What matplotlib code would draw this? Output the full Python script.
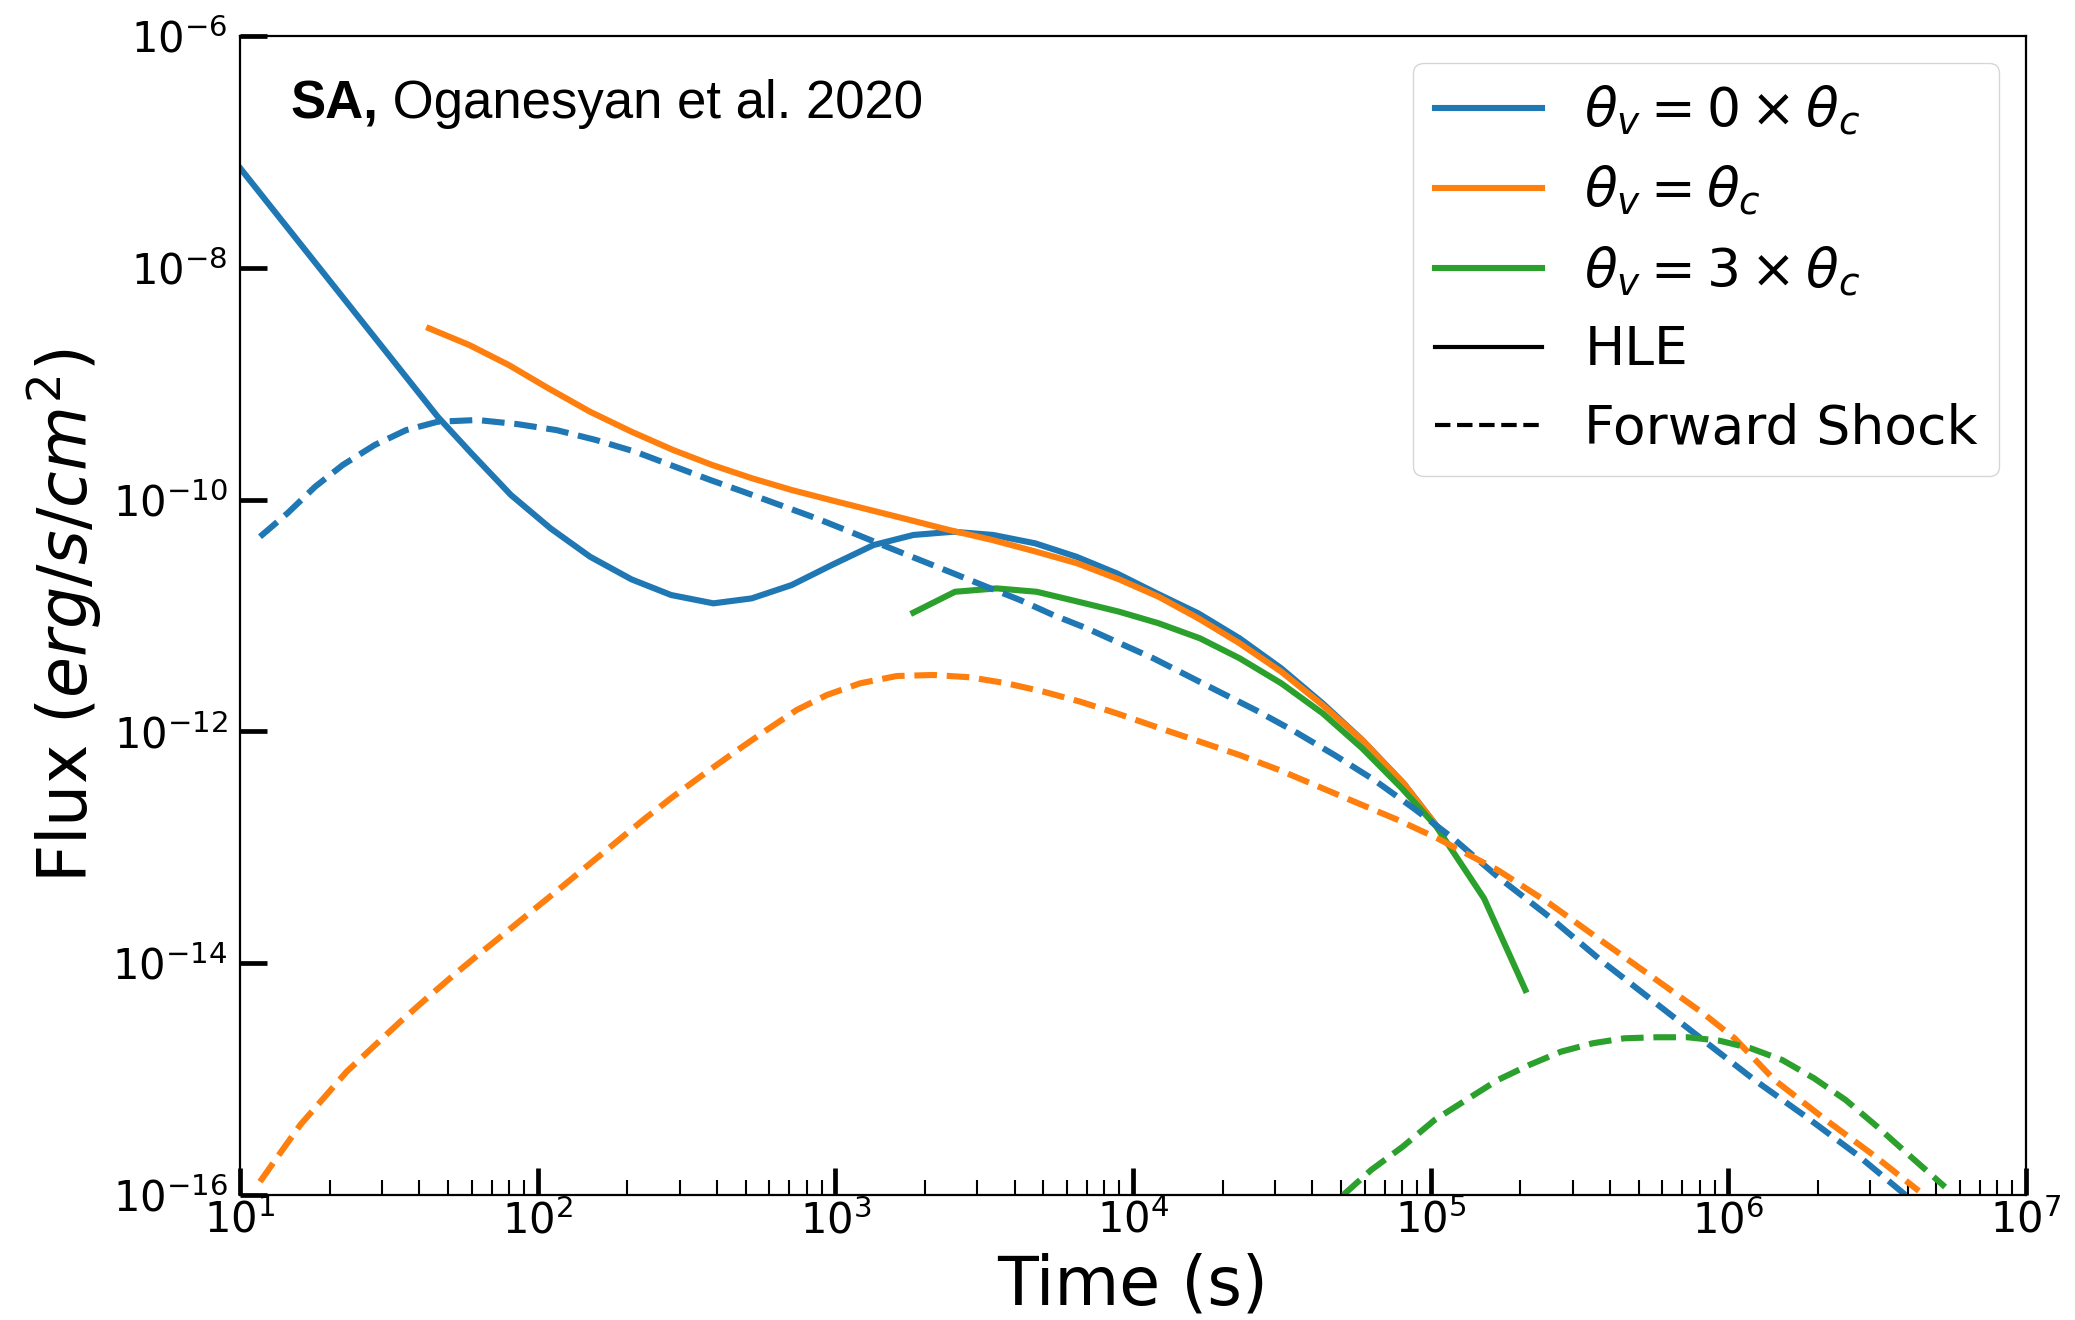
import numpy as np
import matplotlib
matplotlib.use("Agg")
import matplotlib.pyplot as plt
from matplotlib.lines import Line2D
from matplotlib.ticker import LogLocator, NullLocator

# light curves, stored as log10(time [s]) and log10(flux)
# HLE, theta_v = 0
hle0_logt = [1.000, 1.664, 1.777, 1.910, 2.043, 2.176, 2.315, 2.448, 2.590, 2.719,
             2.853, 2.988, 3.128, 3.262, 3.396, 3.530, 3.671, 3.810, 3.945, 4.080,
             4.219, 4.358, 4.498, 4.637, 4.770, 4.909, 5.022]
hle0_logf = [-7.139, -9.285, -9.600, -9.960, -10.248, -10.493, -10.688, -10.823, -10.895, -10.852,
             -10.737, -10.564, -10.392, -10.305, -10.277, -10.305, -10.377, -10.493, -10.636, -10.809,
             -10.981, -11.197, -11.456, -11.758, -12.074, -12.448, -12.822]

# HLE, theta_v = theta_c
hle1_logt = [1.635, 1.770, 1.903, 2.036, 2.176, 2.315, 2.455, 2.587, 2.720, 2.853,
             2.992, 3.229, 3.382, 3.528, 3.674, 3.813, 3.953, 4.086, 4.219, 4.358,
             4.498, 4.637, 4.770, 4.909, 5.022]
hle1_logf = [-8.522, -8.666, -8.839, -9.040, -9.242, -9.414, -9.572, -9.702, -9.816, -9.917,
             -10.009, -10.162, -10.262, -10.349, -10.449, -10.550, -10.688, -10.838, -11.024, -11.240,
             -11.485, -11.773, -12.074, -12.448, -12.822]

# HLE, theta_v = 3 theta_c
hle3_logt = [3.262, 3.402, 3.542, 3.676, 3.816, 3.953, 4.086, 4.225, 4.358, 4.498,
             4.637, 4.770, 4.903, 5.019, 5.179, 5.318]
hle3_logf = [-10.975, -10.795, -10.766, -10.795, -10.881, -10.967, -11.067, -11.197, -11.369, -11.585,
             -11.844, -12.146, -12.491, -12.822, -13.440, -14.231]

# forward shock, theta_v = 0
fs0_logt = [1.067, 1.159, 1.252, 1.345, 1.452, 1.558, 1.664, 1.797, 1.930, 2.063,
            2.196, 2.328, 2.461, 2.579, 2.691, 2.814, 2.937, 3.049, 3.172, 3.284,
            3.396, 3.508, 3.620, 3.732, 3.844, 3.956, 4.068, 4.157, 4.278, 4.411,
            4.544, 4.677, 4.810, 4.943, 5.075, 5.225, 5.398, 5.570, 5.743, 5.915,
            6.088, 6.261, 6.434, 6.595]
fs0_logf = [-10.320, -10.118, -9.889, -9.701, -9.529, -9.400, -9.328, -9.313, -9.348, -9.400,
            -9.486, -9.587, -9.716, -9.830, -9.932, -10.047, -10.162, -10.277, -10.406, -10.521,
            -10.636, -10.752, -10.866, -10.996, -11.110, -11.240, -11.369, -11.485, -11.643, -11.815,
            -12.002, -12.204, -12.419, -12.664, -12.922, -13.254, -13.599, -13.972, -14.318, -14.663,
            -15.008, -15.325, -15.656, -16.000]

# forward shock, theta_v = theta_c
fs1_logt = [1.067, 1.134, 1.202, 1.280, 1.358, 1.448, 1.538, 1.627, 1.711, 1.806,
            1.896, 1.985, 2.075, 2.170, 2.265, 2.361, 2.456, 2.568, 2.669, 2.769,
            2.870, 2.971, 3.083, 3.206, 3.329, 3.452, 3.575, 3.699, 3.822, 3.945,
            4.091, 4.225, 4.358, 4.491, 4.624, 4.757, 4.890, 5.022, 5.225, 5.398,
            5.570, 5.743, 5.915, 6.022, 6.155, 6.328, 6.487, 6.640]
fs1_logf = [-15.885, -15.641, -15.396, -15.166, -14.936, -14.720, -14.505, -14.303, -14.117, -13.915,
            -13.728, -13.541, -13.354, -13.153, -12.952, -12.750, -12.560, -12.350, -12.165, -11.988,
            -11.815, -11.686, -11.585, -11.522, -11.513, -11.533, -11.585, -11.657, -11.743, -11.844,
            -11.973, -12.089, -12.204, -12.333, -12.477, -12.621, -12.764, -12.922, -13.196, -13.483,
            -13.800, -14.116, -14.432, -14.650, -15.008, -15.353, -15.655, -15.965]

# forward shock, theta_v = 3 theta_c
fs3_logt = [4.706, 4.800, 4.906, 5.013, 5.119, 5.225, 5.331, 5.438, 5.544, 5.650,
            5.757, 5.863, 5.969, 6.075, 6.181, 6.288, 6.394, 6.500, 6.607, 6.728]
fs3_logf = [-16.000, -15.784, -15.583, -15.353, -15.180, -15.008, -14.878, -14.763, -14.691, -14.648,
            -14.639, -14.639, -14.668, -14.734, -14.835, -14.993, -15.180, -15.410, -15.656, -15.931]

labels = [r"$\theta_v = 0 \times \theta_c$", r"$\theta_v = \theta_c$", r"$\theta_v = 3 \times \theta_c$"]
colors = ["C0", "C1", "C2"]
lw = 4.4

fig = plt.figure(figsize=(20.75, 13.2), dpi=100)
ax = fig.add_subplot(111)
fig.subplots_adjust(left=0.1157, right=0.9764, bottom=0.0947, top=0.9727)

hle = [(hle0_logt, hle0_logf), (hle1_logt, hle1_logf), (hle3_logt, hle3_logf)]
fs = [(fs0_logt, fs0_logf), (fs1_logt, fs1_logf), (fs3_logt, fs3_logf)]

for (lt, lf), c in zip(hle, colors):
    ax.plot(10 ** np.array(lt), 10 ** np.array(lf), "-", color=c, lw=lw)
for (lt, lf), c in zip(fs, colors):
    ax.plot(10 ** np.array(lt), 10 ** np.array(lf), "--", color=c, lw=lw)

ax.set_xscale("log")
ax.set_yscale("log")
ax.set_xlim(1e1, 1e7)
ax.set_ylim(1e-16, 1e-6)

ax.set_yticks([10.0 ** p for p in range(-16, -5, 2)])
ax.yaxis.set_minor_locator(NullLocator())
ax.xaxis.set_major_locator(LogLocator(base=10, numticks=20))
ax.xaxis.set_minor_locator(LogLocator(base=10, subs=np.arange(2, 10), numticks=20))

ax.tick_params(which="major", direction="in", length=19.5, width=3.4, labelsize=30)
ax.tick_params(which="minor", direction="in", length=11, width=1.5)
ax.tick_params(axis="y", which="major", pad=9)
for s in ax.spines.values():
    s.set_linewidth(1.6)

ax.set_xlabel("Time (s)", fontsize=48, labelpad=7)
ax.set_ylabel(r"Flux ($erg/s/cm^2$)", fontsize=48, labelpad=6)

handles = [Line2D([], [], color=c, lw=lw) for c in colors]
handles.append(Line2D([], [], color="k", lw=3, ls="-"))
handles.append(Line2D([], [], color="k", lw=3, ls="--"))
ax.legend(handles, labels + ["HLE", "Forward Shock"], loc="upper right", fontsize=38.5)

t1 = ax.text(0.028, 0.929, "SA,", transform=ax.transAxes, fontsize=38,
             family="Liberation Sans", fontweight="bold", va="baseline")
ax.annotate(" Oganesyan et al. 2020", xy=(1, 0), xycoords=t1, fontsize=38,
            family="Liberation Sans", va="bottom")

fig.savefig("out.png", dpi=100)
